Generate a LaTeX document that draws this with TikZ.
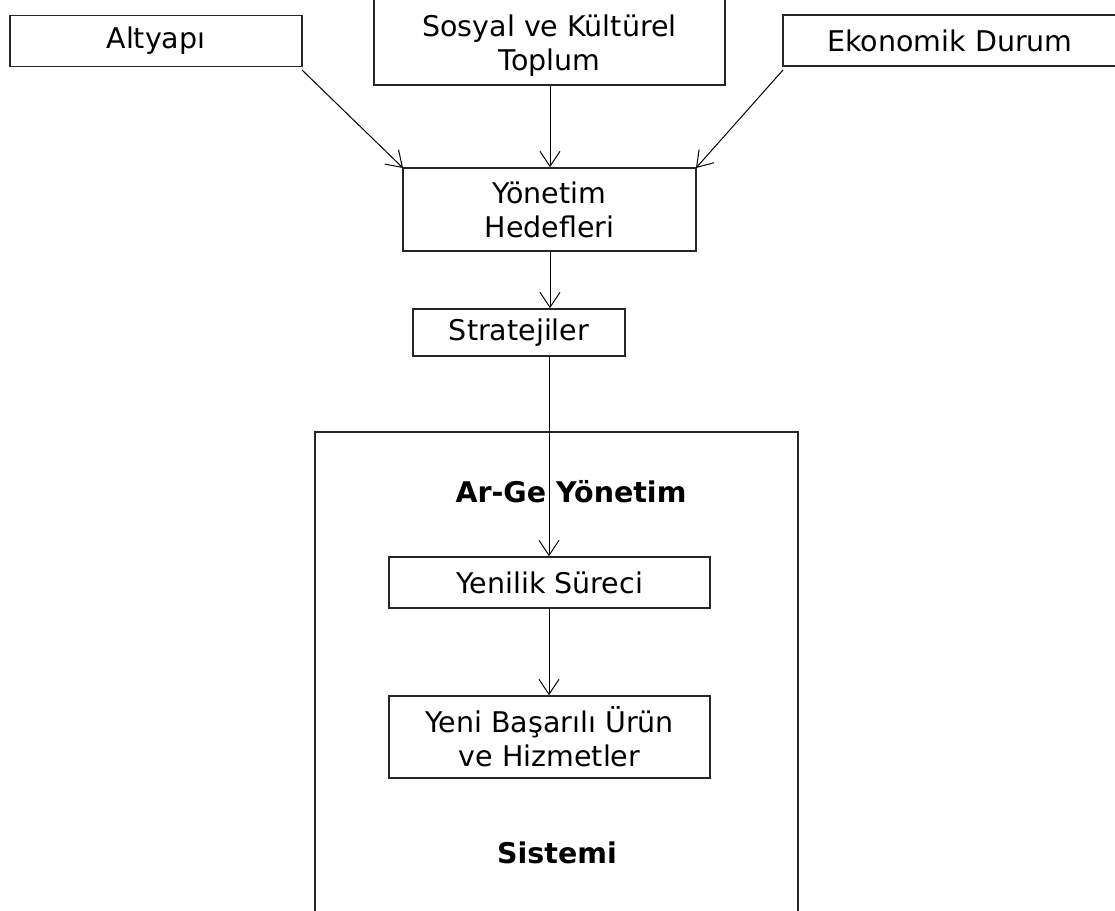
\documentclass[tikz,border=0pt]{standalone}
\usepackage{fontspec}
\setmainfont{DejaVu Sans}
\usetikzlibrary{arrows.meta}
\begin{document}
\begin{tikzpicture}[x=1pt,y=-1pt,
  box/.style={draw=black!85,line width=1.6pt,inner sep=0pt,align=center,font=\fontsize{28.5}{34}\selectfont},
  txt/.style={inner sep=0pt,align=center,font=\fontsize{28.5}{34}\selectfont},
  conn/.style={line width=1pt,-{Straight Barb[length=15pt,width=20pt,line width=1pt]}},
  lbl/.style={font=\fontsize{28.5}{34}\selectfont\bfseries,inner sep=0pt}]
\useasboundingbox (0,0) rectangle (1115,910);
\draw[draw=black!85,line width=1.6pt] (315,432) rectangle (798,915);
\node[box,minimum width=292pt,minimum height=51pt] (alt) at (156,41) {\raisebox{-1.5pt}{Altyapı}};
\node[box,minimum width=351pt,minimum height=87pt] (sos) at (549.5,41.5) {};
\node[txt] (sost) at (549.5,46) {Sosyal ve Kültürel\\Toplum};
\node[box,minimum width=334pt,minimum height=51pt] (eko) at (950,40.5) {Ekonomik Durum};
\node[box,minimum width=293pt,minimum height=83pt] (yon) at (549.5,209.5) {Yönetim\\Hedefleri};
\node[box,minimum width=212pt,minimum height=47pt] (str) at (519,332.5) {Stratejiler};
\node[lbl] (arge) at (571,492) {Ar-Ge Yönetim};
\node[box,minimum width=321pt,minimum height=51pt] (yen) at (549.5,582.5) {Yenilik Süreci};
\node[box,minimum width=321pt,minimum height=82pt] (uru) at (549.5,737) {Yeni Başarılı Ürün\\ve Hizmetler};
\node[lbl] (sis) at (557,853) {Sistemi};
\coordinate (a1) at (302,70);
\coordinate (a2) at (403,168);
\coordinate (e1) at (783,70);
\coordinate (e2) at (696,168);
\draw[conn] (a1) -- (a2);
\draw[conn] (e1) -- (e2);
\draw[conn] (sos.south -| 550,0) -- (yon.north -| 550,0);
\draw[conn] (yon.south -| 550,0) -- (str.north -| 550,0);
\draw[conn] (str.south -| 549,0) -- (yen.north -| 549,0);
\draw[conn] (yen.south -| 549,0) -- (uru.north -| 549,0);
\end{tikzpicture}
\end{document}
